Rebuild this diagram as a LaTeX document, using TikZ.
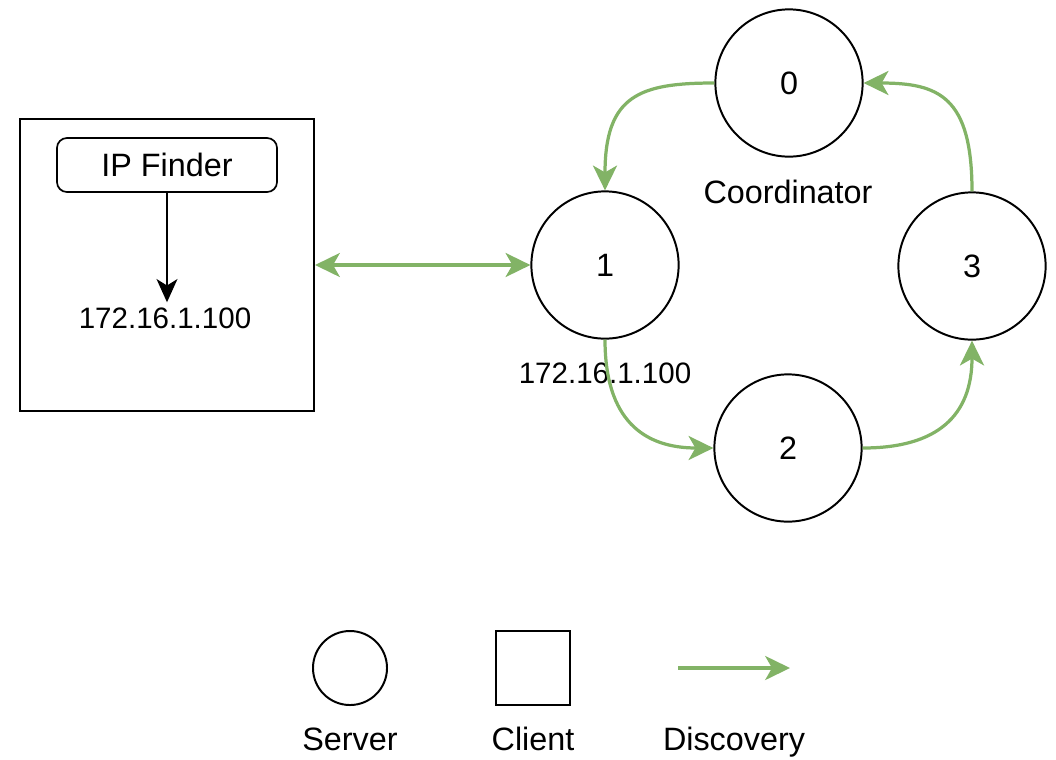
\documentclass[tikz,border=0pt]{standalone}
\usepackage{fontspec}
\setmainfont{Liberation Sans}
\usetikzlibrary{arrows.meta}
\usetikzlibrary{positioning}
\definecolor{discgreen}{HTML}{82B366}

\begin{document}
\begin{tikzpicture}[x=0.025cm, y=-0.025cm,
    server/.style={draw, circle, line width=1.4pt, minimum size=3.68cm, inner sep=0pt, font=\fontsize{23}{27}\selectfont},
    client/.style={draw, line width=1.4pt, inner sep=0pt},
    tip/.style={Stealth[length=0.62cm, width=0.6cm, inset=0.17cm]},
    discovery/.style={line width=2.3pt, discgreen, -{Stealth[length=0.62cm, width=0.6cm, inset=0.17cm]}},
    lbl/.style={font=\fontsize{23}{27}\selectfont, inner sep=0pt, anchor=base},
    iplbl/.style={font=\fontsize{21}{25}\selectfont, inner sep=0pt, anchor=base}]
    \useasboundingbox (0,0) rectangle (1056,759);
    % Client with its IP finder
    \node[client, minimum width=7.35cm, minimum height=7.32cm] (client) at (167,265) {};
    \node[draw, line width=1.2pt, rounded corners=0.25cm, minimum width=5.5cm, minimum height=1.35cm,
          font=\fontsize{23}{27}\selectfont] (finder) at (167,165) {IP Finder};
    \node[iplbl] (ipclient) at (165,328) {172.16.1.100};
    \draw[line width=1.7pt, -{Stealth[length=0.58cm, width=0.52cm, inset=0.16cm]}, shorten >=0.12cm]
        (finder.south) -- (finder.south |- ipclient.north);
    % Server ring
    \node[server] (n0) at (789,83) {0};
    \node[server] (n1) at (605,265) {1};
    \node[server] (n2) at (788,448) {2};
    \node[server] (n3) at (972,266) {3};
    \node[lbl] (coord) at (788,203) {Coordinator};
    \node[iplbl] (ipserver) at (605,383) {172.16.1.100};
    % Discovery between client and server 1
    \draw[discovery, {Stealth[length=0.62cm, width=0.6cm, inset=0.17cm]}-{Stealth[length=0.62cm, width=0.6cm, inset=0.17cm]}] (client.east) -- (n1.west);
    % Discovery around the ring
    \draw[discovery] (n0.west) .. controls +(-75,0) and +(0,-95) .. (n1.north);
    \draw[discovery] (n1.south) .. controls +(0,80) and +(-70,0) .. (n2.west);
    \draw[discovery] (n2.east) .. controls +(75,0) and +(0,75) .. (n3.south);
    \draw[discovery] (n3.north) .. controls +(0,-95) and +(75,0) .. (n0.east);
    % Legend
    \node[server, minimum size=1.85cm] (lserver) at (350,668) {};
    \node[client, minimum size=1.83cm] (lclient) at (533,668) {};
    \coordinate (larrowa) at (678,668);
    \coordinate (larrowb) at (790,668);
    \draw[discovery] (larrowa) -- (larrowb);
    \node[lbl] (tserver) at (350,750) {Server};
    \node[lbl] (tclient) at (533,750) {Client};
    \node[lbl] (tdisc) at (734,750) {Discovery};
\end{tikzpicture}
\end{document}
